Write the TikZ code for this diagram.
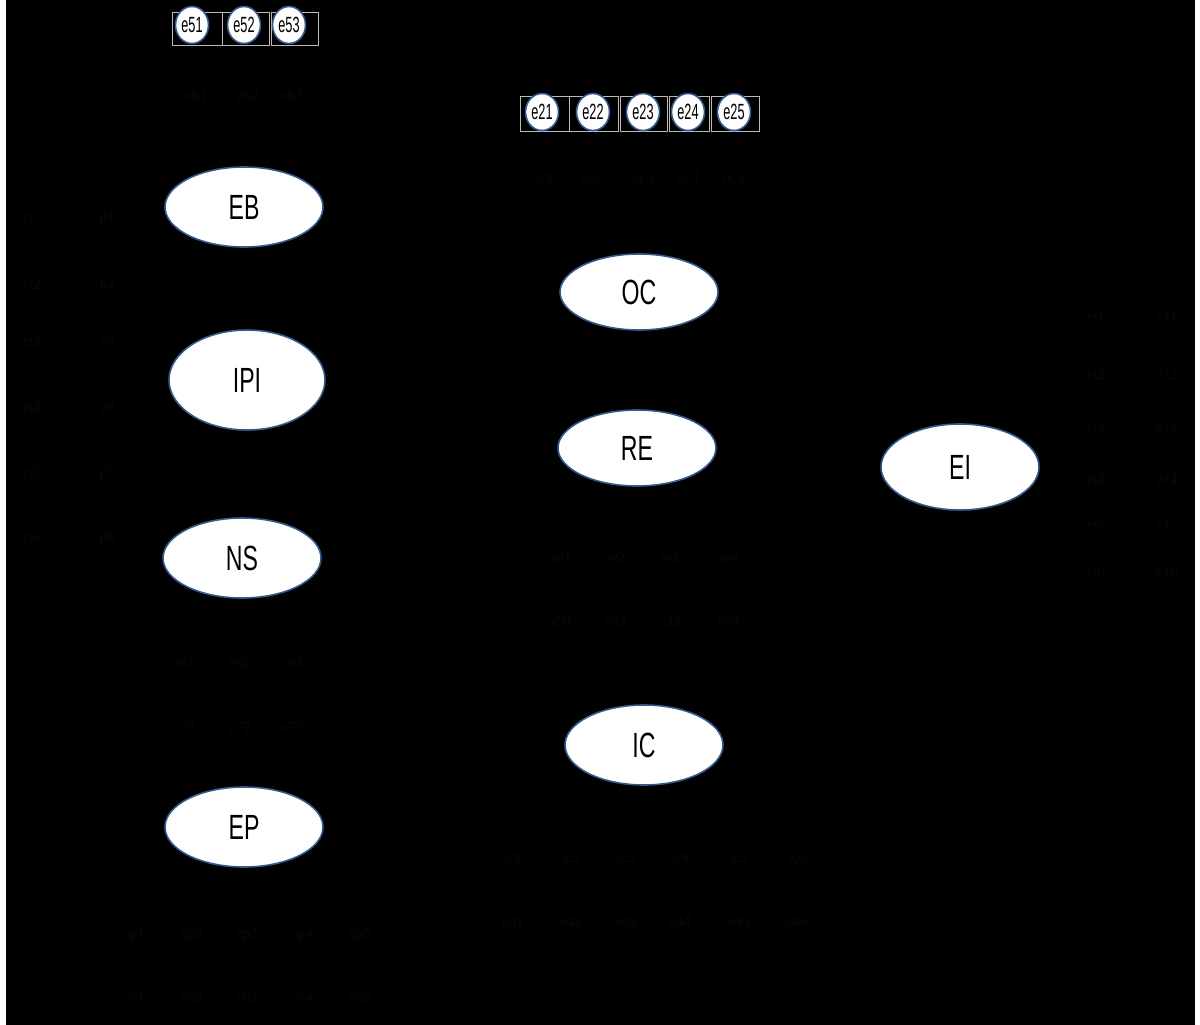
\documentclass[tikz,border=0pt]{standalone}
\usepackage{fontspec}
\setmainfont{Liberation Serif}
\newfontfamily\bigfont[FakeStretch=0.66]{Liberation Sans}
\newfontfamily\smallfont[FakeStretch=0.58]{Liberation Sans}
\usetikzlibrary{shapes.geometric}
\definecolor{rim}{RGB}{50,90,140}
\definecolor{boxgray}{RGB}{185,185,185}
\definecolor{hid}{RGB}{9,9,9}
\tikzset{
  latent/.style={ellipse,draw=rim,line width=1.6pt,fill=white,inner sep=0pt,
    minimum width=158pt,minimum height=80pt,font=\bigfont\fontsize{35}{35}\selectfont},
  err/.style={ellipse,draw=rim,line width=1.6pt,fill=white,inner sep=0pt,
    minimum width=33pt,minimum height=37pt,font=\smallfont\fontsize{22}{22}\selectfont},
  errbox/.style={draw=boxgray,line width=0.8pt},
  hidlab/.style={text=hid,font=\fontsize{15}{15}\selectfont,inner sep=0pt}
}
\begin{document}
\begin{tikzpicture}[x=1pt,y=-1pt]
\useasboundingbox (0,0) rectangle (1200,1025);
\fill[black] (6,0) rectangle (1195,1025);
% error boxes top-left
\draw[errbox] (172,12) rectangle (222,45);
\draw[errbox] (222,12) rectangle (269,45);
\draw[errbox] (271,12) rectangle (318,45);
\node[err] (e51) at (192,25) {e51};
\node[err] (e52) at (244,25) {e52};
\node[err] (e53) at (289,25) {e53};
% error boxes top-middle
\draw[errbox] (520,96) rectangle (569,131);
\draw[errbox] (569,96) rectangle (618,131);
\draw[errbox] (620,96) rectangle (667,131);
\draw[errbox] (669,96) rectangle (709,131);
\draw[errbox] (711,96) rectangle (759,131);
\node[err] (e21) at (542,112) {e21};
\node[err] (e22) at (593,112) {e22};
\node[err] (e23) at (643,112) {e23};
\node[err] (e24) at (688,112) {e24};
\node[err] (e25) at (734,112) {e25};
% latent variables
\node[latent] (EB) at (244,207) {EB};
\node[latent,minimum width=156pt,minimum height=100pt] (IPI) at (247,380) {IPI};
\node[latent] (NS) at (242,558) {NS};
\node[latent] (EP) at (244,827) {EP};
\node[latent,minimum height=76pt] (OC) at (639,292) {OC};
\node[latent,minimum height=76pt] (RE) at (637,448) {RE};
\node[latent] (IC) at (644,745) {IC};
\node[latent,minimum height=86pt] (EI) at (960,467) {EI};
% hidden (near-black) labels
\foreach \x/\t in {196/eb1,248/eb2,292/eb3} \node[hidlab] (l\t) at (\x,95) {\t};
\foreach \x/\t in {543/oc1,592/oc2,643/oc3,688/oc4,734/oc5} \node[hidlab] (l\t) at (\x,178) {\t};
\foreach \y/\i in {217/1,285/2,342/3,408/4,473/5,538/6} {
  \node[hidlab] (lct\i) at (32,\y) {ct\i};
  \node[hidlab] (lp\i) at (107,\y) {p\i};
}
\foreach \y/\i in {317/1,375/2,427/3,480/4,525/5,572/6} {
  \node[hidlab] (lei\i) at (1096,\y) {ei\i};
  \node[hidlab] (le1\i) at (1167,\y) {e1\i};
}
\foreach \x/\i in {185/1,240/2,293/3} {
  \node[hidlab] (lns\i) at (\x,663) {ns\i};
  \node[hidlab] (le7\i) at (\x,728) {e7\i};
}
\foreach \x/\i in {562/1,616/2,670/3,729/4} {
  \node[hidlab] (lre\i) at (\x,558) {re\i};
  \node[hidlab] (le3\i) at (\x,622) {e3\i};
}
\foreach \x/\i in {134/1,192/2,247/3,302/4,360/5} {
  \node[hidlab] (lep\i) at (\x,935) {ep\i};
  \node[hidlab] (le6\i) at (\x,998) {e6\i};
}
\foreach \x/\i in {513/1,571/2,626/3,680/4,739/5,797/6} {
  \node[hidlab] (lic\i) at (\x,858) {ic\i};
  \node[hidlab] (le4\i) at (\x,922) {e4\i};
}
\end{tikzpicture}
\end{document}
